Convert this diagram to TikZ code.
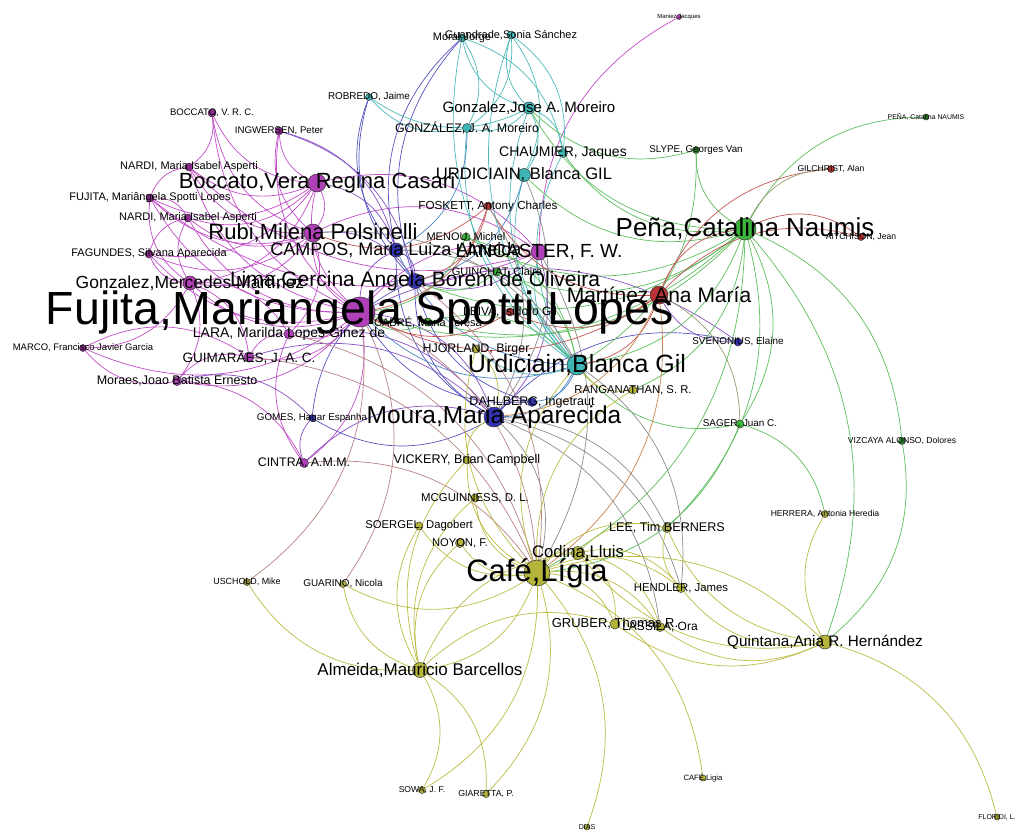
\documentclass[tikz,border=0pt]{standalone}
\usepackage{fontspec}
\setmainfont{Liberation Sans}
\pgfdeclarelayer{edgelayer}
\pgfdeclarelayer{labellayer}
\pgfsetlayers{edgelayer,main,labellayer}
\definecolor{cM}{HTML}{B040B8}
\definecolor{cMd}{HTML}{8E2A90}
\definecolor{cB}{HTML}{3434B0}
\definecolor{cT}{HTML}{3EB4B4}
\definecolor{cG}{HTML}{3CB43C}
\definecolor{cGd}{HTML}{2E8A2E}
\definecolor{cR}{HTML}{B83434}
\definecolor{cY}{HTML}{B4B43A}
\definecolor{cYd}{HTML}{8A8A2A}
\definecolor{eM}{HTML}{C24CC8}
\definecolor{eP}{HTML}{8650C4}
\definecolor{eB}{HTML}{5454C0}
\definecolor{eBT}{HTML}{4C84C4}
\definecolor{eT}{HTML}{4CBABA}
\definecolor{eG}{HTML}{5CBE5C}
\definecolor{eR}{HTML}{C45656}
\definecolor{eO}{HTML}{C8844C}
\definecolor{eN}{HTML}{B88282}
\definecolor{eW}{HTML}{9A9A70}
\definecolor{eK}{HTML}{8C8C8C}
\definecolor{eY}{HTML}{BCBC44}
\newcommand{\Vx}[7]{%
  \node[vtx=#4, fill=#5] (#1) at (#2,#3) {};%
  \begin{pgfonlayer}{labellayer}\node[lbl, font=\fontsize{#6}{#6}\selectfont] (#1-lbl) at (#2,#3) {#7};\end{pgfonlayer}}
\newcommand{\Ex}[3]{\draw[ed,#1] (#2) to (#3);}
\begin{document}
\begin{tikzpicture}[x=1pt,y=-1pt,
  vtx/.style={circle, draw=black!80, line width=0.5pt, inner sep=0pt, minimum size=#1 pt},
  lbl/.style={inner sep=0pt, text=black},
  ed/.style={line width=0.7pt, bend left=30}]
\useasboundingbox (0,0) rectangle (1015,830);
% magenta group
\Vx{fuj}{360}{312}{30}{cM}{46.5}{Fujita,Mariangela Spotti Lopes}
\Vx{boc}{317}{183}{18}{cM}{22}{Boccato,Vera Regina Casari}
\Vx{rub}{313}{233}{18}{cM}{22}{Rubi,Milena Polsinelli}
\Vx{gme}{190}{283}{14}{cM}{17.5}{Gonzalez,Mercedes Martínez}
\Vx{lan}{539}{252}{16}{cM}{19}{LANCASTER, F. W.}
\Vx{bvr}{212}{113}{8}{cMd}{9.5}{BOCCATO, V. R. C.}
\Vx{ing}{279}{131}{8}{cMd}{9.7}{INGWERSEN, Peter}
\Vx{nara}{189}{167}{8}{cMd}{11}{NARDI, Maria Isabel Asperti}
\Vx{fsm}{150}{198}{8}{cMd}{11}{FUJITA, Mariângela Spotti Lopes}
\Vx{narb}{188}{218}{8}{cMd}{11}{NARDI, Maria Isabel Asperti}
\Vx{fag}{149}{254}{8}{cMd}{11}{FAGUNDES, Silvana Aparecida}
\Vx{lar}{289}{334}{10}{cM}{14}{LARA, Marilda Lopes Ginez de}
\Vx{mar}{83}{348}{7}{cMd}{9.5}{MARCO, Francisco Javier Garcia}
\Vx{gui}{249}{357}{10}{cM}{13.5}{GUIMARÃES, J. A. C.}
\Vx{mor}{177}{381}{9}{cM}{12.5}{Moraes,Joao Batista Ernesto}
\Vx{cin}{304}{463}{9}{cM}{12.4}{CINTRA, A.M.M.}
\Vx{man}{679}{17}{5}{cM}{6}{Maniez,Jacques}
% blue group
\Vx{lim}{415}{281}{15}{cB}{21}{Lima,Gercina Angela Borem de Oliveira}
\Vx{cam}{396}{250}{14}{cB}{18}{CAMPOS, Maria Luiza Almeida}
\Vx{mou}{494}{417}{20}{cB}{24.5}{Moura,Maria Aparecida}
\Vx{dah}{532}{402}{9}{cB}{12.5}{DAHLBERG, Ingetraut}
\Vx{sve}{738}{342}{8}{cB}{9.9}{SVENONIUS, Elaine}
\Vx{gom}{312}{418}{7}{cB}{9.8}{GOMES, Hagar Espanha}
% teal group
\Vx{urd}{577}{365}{20}{cT}{25}{Urdiciain,Blanca Gil}
\Vx{ugl}{524}{175}{13}{cT}{16.6}{URDICIAIN, Blanca GIL}
\Vx{gjo}{529}{108}{12}{cT}{15}{Gonzalez,Jose A. Moreiro}
\Vx{gja}{467}{128}{9}{cT}{12.4}{GONZÁLEZ, J. A. Moreiro}
\Vx{cha}{563}{153}{9}{cT}{14}{CHAUMIER, Jaques}
\Vx{mjo}{462}{38}{8}{cT}{11}{Moral,Jorge}
\Vx{asa}{511}{35}{8}{cT}{11}{Guandrade,Sonia Sánchez}
\Vx{rob}{369}{97}{7}{cT}{9.9}{ROBREDO, Jaime}
% green group
\Vx{pen}{745}{229}{22}{cG}{26}{Peña,Catalina Naumis}
\Vx{sly}{696}{150}{7}{cGd}{9.8}{SLYPE, Georges Van}
\Vx{psm}{926}{117}{6}{cGd}{6.9}{PEÑA, Catalina NAUMIS}
\Vx{sag}{740}{424}{8}{cG}{9.9}{SAGER, Juan C.}
\Vx{viz}{902}{441}{7}{cGd}{8.6}{VIZCAYA ALONSO, Dolores}
\Vx{men}{466}{237}{8}{cG}{11}{MENOU, Michel}
\Vx{gch}{497}{272}{8}{cG}{11}{GUINCHAT, Claire}
\Vx{cab}{428}{322}{8}{cG}{11}{CABRÉ, Maria Teresa}
% red group
\Vx{mtz}{659}{295}{18}{cR}{21}{Martínez Ana María}
\Vx{fos}{488}{206}{8}{cR}{11.7}{FOSKETT, Antony Charles}
\Vx{gil}{831}{169}{7}{cR}{8.6}{GILCHRIST, Alan}
\Vx{ait}{861}{237}{7}{cR}{8.6}{AITCHISON, Jean}
\Vx{lei}{510}{312}{8}{cR}{12}{LEIVA, Isidoro Gil}
% olive group
\Vx{caf}{537}{573}{26}{cY}{31}{Café,Lígia}
\Vx{cod}{578}{553}{13}{cY}{16.7}{Codina,Lluis}
\Vx{alm}{420}{670}{15}{cY}{17}{Almeida,Mauricio Barcellos}
\Vx{qui}{825}{642}{14}{cY}{15.3}{Quintana,Ania R. Hernández}
\Vx{gru}{615}{624}{10}{cY}{13}{GRUBER, Thomas R.}
\Vx{las}{660}{627}{9}{cY}{12}{LASSILA, Ora}
\Vx{hen}{681}{588}{9}{cY}{11.4}{HENDLER, James}
\Vx{lee}{667}{528}{9}{cY}{12.6}{LEE, Tim BERNERS}
\Vx{ran}{633}{390}{8}{cY}{11.3}{RANGANATHAN, S. R.}
\Vx{hjo}{476}{349}{8}{cY}{12.4}{HJORLAND, Birger}
\Vx{vic}{467}{460}{8}{cY}{12.6}{VICKERY, Brian Campbell}
\Vx{mcg}{475}{498}{8}{cY}{11.4}{MCGUINNESS, D. L.}
\Vx{soe}{419}{526}{8}{cY}{11.3}{SOERGEL, Dagobert}
\Vx{noy}{460}{543}{9}{cY}{11.2}{NOYON, F.}
\Vx{usc}{247}{582}{7}{cYd}{8.9}{USCHOLD, Mike}
\Vx{gua}{343}{584}{7}{cY}{9.9}{GUARINO, Nicola}
\Vx{sow}{422}{790}{7}{cY}{8.6}{SOWA, J. F.}
\Vx{gia}{486}{794}{7}{cY}{8.8}{GIARETTA, P.}
\Vx{csm}{703}{778}{6}{cY}{7.7}{CAFÉ,Ligia}
\Vx{flo}{997}{817}{6}{cY}{7}{FLORIDI, L.}
\Vx{dia}{587}{827}{6}{cY}{7}{DIAS}
\Vx{her}{825}{514}{7}{cY}{8.6}{HERRERA, Antonia Heredia}
\begin{pgfonlayer}{edgelayer}
\fill[white] (0,0) rectangle (1015,830);
% magenta
\Ex{eM}{fuj}{bvr}\Ex{eM}{fuj}{ing}\Ex{eM}{fuj}{nara}\Ex{eM}{fuj}{fsm}\Ex{eM}{fuj}{narb}
\Ex{eM}{fuj}{fag}\Ex{eM}{fuj}{gme}\Ex{eM}{fuj}{lar}\Ex{eM}{fuj}{gui}\Ex{eM}{fuj}{mor}
\Ex{eM}{fuj}{cin}\Ex{eM}{fuj}{boc}\Ex{eM}{fuj}{rub}\Ex{eM}{fuj}{lan}\Ex{eM}{fuj}{mar}
\Ex{eM}{boc}{bvr}\Ex{eM}{boc}{ing}\Ex{eM}{boc}{nara}\Ex{eM}{boc}{fsm}\Ex{eM}{boc}{narb}
\Ex{eM}{boc}{fag}\Ex{eM}{boc}{rub}\Ex{eM}{boc}{lan}\Ex{eM}{boc}{gme}
\Ex{eM}{rub}{bvr}\Ex{eM}{rub}{ing}\Ex{eM}{rub}{nara}\Ex{eM}{rub}{fsm}\Ex{eM}{rub}{narb}
\Ex{eM}{rub}{fag}\Ex{eM}{rub}{lan}\Ex{eM}{rub}{gme}\Ex{eM}{rub}{lar}
\Ex{eM}{gme}{mar}\Ex{eM}{gme}{mor}\Ex{eM}{gme}{gui}\Ex{eM}{gme}{lar}\Ex{eM}{gme}{fsm}
\Ex{eM}{gme}{fag}\Ex{eM}{gme}{narb}
\Ex{eM}{mor}{mar}\Ex{eM}{mor}{gui}\Ex{eM}{mor}{cin}\Ex{eM}{mar}{gui}\Ex{eM}{cin}{lar}\Ex{eM}{gui}{lar}
\Ex{eM}{lan}{man}\Ex{eM}{lan}{fsm}\Ex{eM}{lan}{nara}
\Ex{eM}{fsm}{nara}\Ex{eM}{fsm}{narb}\Ex{eM}{bvr}{nara}\Ex{eM}{fag}{narb}
% purple
\Ex{eP}{fuj}{lim}\Ex{eP}{fuj}{cam}\Ex{eP}{fuj}{mou}\Ex{eP}{gui}{mou}\Ex{eP}{mor}{gom}
\Ex{eP}{cin}{gom}\Ex{eP}{ing}{cam}\Ex{eP}{ing}{lim}\Ex{eP}{lan}{mou}\Ex{eP}{lan}{lim}
\Ex{eP}{cin}{mou}\Ex{eP}{boc}{cam}\Ex{eP}{rub}{lim}\Ex{eP}{sve}{mtz}\Ex{eP}{fuj}{sve}\Ex{eP}{lar}{mou}
% blue
\Ex{eB}{mou}{gom}\Ex{eB}{mou}{cam}\Ex{eB}{mou}{lim}\Ex{eB}{mou}{dah}\Ex{eB}{mou}{sve}
\Ex{eB}{cam}{lim}\Ex{eB}{cam}{rob}\Ex{eB}{lim}{rob}\Ex{eB}{cam}{mjo}\Ex{eB}{lim}{mjo}
\Ex{eB}{dah}{lim}\Ex{eB}{gom}{lim}\Ex{eB}{dah}{fuj}
% teal
\Ex{eT}{urd}{ugl}\Ex{eT}{urd}{gjo}\Ex{eT}{urd}{gja}\Ex{eT}{urd}{cha}\Ex{eT}{urd}{asa}
\Ex{eT}{urd}{mjo}\Ex{eT}{urd}{hjo}\Ex{eT}{gjo}{asa}\Ex{eT}{gjo}{mjo}\Ex{eT}{gjo}{cha}
\Ex{eT}{gjo}{ugl}\Ex{eT}{gjo}{gja}\Ex{eT}{gjo}{rob}\Ex{eT}{asa}{cha}\Ex{eT}{asa}{gja}
\Ex{eT}{asa}{ugl}\Ex{eT}{mjo}{gja}\Ex{eT}{mjo}{cha}\Ex{eT}{gja}{rob}\Ex{eT}{urd}{lan}
\Ex{eBT}{ugl}{lim}\Ex{eBT}{gja}{cam}\Ex{eBT}{urd}{cam}\Ex{eBT}{urd}{mou}\Ex{eBT}{urd}{dah}\Ex{eBT}{urd}{fuj}
% green
\Ex{eG}{pen}{sly}\Ex{eG}{pen}{psm}\Ex{eG}{pen}{sag}\Ex{eG}{pen}{viz}\Ex{eG}{pen}{urd}
\Ex{eG}{pen}{caf}\Ex{eG}{pen}{men}\Ex{eG}{pen}{gch}\Ex{eG}{pen}{cab}\Ex{eG}{pen}{gjo}
\Ex{eG}{pen}{ugl}\Ex{eG}{pen}{qui}\Ex{eG}{pen}{fuj}\Ex{eG}{pen}{lim}\Ex{eG}{pen}{ran}
\Ex{eG}{pen}{lee}\Ex{eG}{sly}{urd}\Ex{eG}{sly}{gjo}\Ex{eG}{sag}{her}\Ex{eG}{sag}{urd}
\Ex{eG}{sag}{caf}\Ex{eG}{viz}{qui}\Ex{eG}{men}{urd}\Ex{eG}{gch}{urd}\Ex{eG}{cab}{urd}
\Ex{eG}{cab}{fuj}\Ex{eG}{men}{fuj}\Ex{eG}{gch}{lim}\Ex{eG}{pen}{cha}
% red
\Ex{eR}{mtz}{pen}\Ex{eR}{mtz}{ait}\Ex{eR}{mtz}{gil}\Ex{eR}{mtz}{fos}\Ex{eR}{mtz}{fuj}
\Ex{eR}{mtz}{lei}\Ex{eR}{mtz}{urd}\Ex{eR}{pen}{ait}\Ex{eR}{fos}{fuj}\Ex{eR}{fos}{lim}
\Ex{eR}{lei}{fuj}\Ex{eR}{fos}{rub}
\Ex{eW}{pen}{gil}\Ex{eW}{mtz}{sag}
\Ex{eO}{mtz}{caf}\Ex{eO}{mtz}{mou}
\Ex{eN}{fuj}{caf}\Ex{eN}{cin}{caf}\Ex{eN}{fuj}{usc}\Ex{eN}{fuj}{gua}\Ex{eN}{lim}{caf}
\Ex{eN}{lar}{caf}\Ex{eN}{gui}{caf}
% grey
\Ex{eK}{mou}{caf}\Ex{eK}{mou}{lee}\Ex{eK}{mou}{las}\Ex{eK}{mou}{hen}\Ex{eK}{fos}{mou}
\Ex{eK}{ugl}{mou}\Ex{eK}{cam}{urd}\Ex{eK}{lan}{caf}\Ex{eK}{urd}{hen}\Ex{eK}{rub}{urd}
% olive
\Ex{eY}{caf}{cod}\Ex{eY}{caf}{alm}\Ex{eY}{caf}{gru}\Ex{eY}{caf}{las}\Ex{eY}{caf}{hen}
\Ex{eY}{caf}{lee}\Ex{eY}{caf}{qui}\Ex{eY}{caf}{noy}\Ex{eY}{caf}{soe}\Ex{eY}{caf}{mcg}
\Ex{eY}{caf}{vic}\Ex{eY}{caf}{gua}\Ex{eY}{caf}{csm}\Ex{eY}{caf}{dia}\Ex{eY}{caf}{sow}
\Ex{eY}{caf}{gia}\Ex{eY}{caf}{ran}\Ex{eY}{caf}{hjo}\Ex{eY}{caf}{urd}
\Ex{eY}{alm}{sow}\Ex{eY}{alm}{gia}\Ex{eY}{alm}{gua}\Ex{eY}{alm}{usc}\Ex{eY}{alm}{noy}
\Ex{eY}{alm}{soe}\Ex{eY}{alm}{mcg}\Ex{eY}{alm}{vic}\Ex{eY}{alm}{cod}\Ex{eY}{alm}{gru}
\Ex{eY}{qui}{hen}\Ex{eY}{qui}{las}\Ex{eY}{qui}{gru}\Ex{eY}{qui}{lee}\Ex{eY}{qui}{cod}
\Ex{eY}{qui}{flo}\Ex{eY}{qui}{her}
\Ex{eY}{cod}{gru}\Ex{eY}{cod}{hen}\Ex{eY}{cod}{las}\Ex{eY}{cod}{lee}\Ex{eY}{hen}{lee}\Ex{eY}{gru}{las}
\Ex{eY}{vic}{mou}\Ex{eY}{ran}{urd}\Ex{eY}{hjo}{mou}
\end{pgfonlayer}
\end{tikzpicture}
\end{document}
